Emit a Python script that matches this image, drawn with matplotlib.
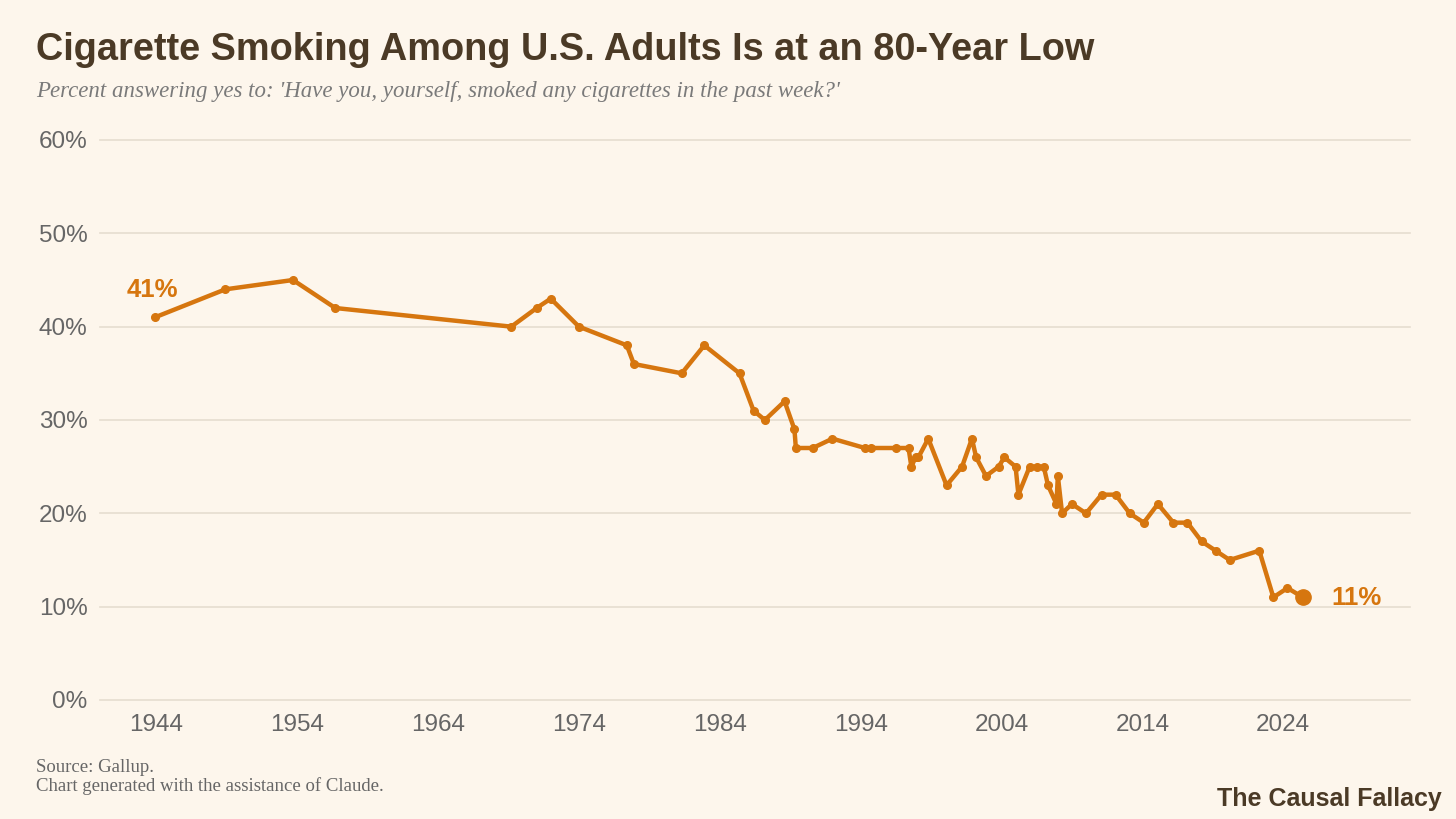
import matplotlib
matplotlib.use("Agg")
import matplotlib.pyplot as plt

# Gallup: smoked any cigarettes in the past week (%)
years = [1943.9, 1948.9, 1953.7, 1956.7, 1969.2, 1971.0, 1972.0, 1974.0,
         1977.4, 1977.9, 1981.3, 1982.9, 1985.4, 1986.4, 1987.2, 1988.6,
         1989.3, 1989.4, 1990.6, 1992.0, 1994.3, 1994.7, 1996.5, 1997.4,
         1997.6, 1997.9, 1998.1, 1998.8, 2000.1, 2001.2, 2001.9, 2002.2,
         2002.9, 2003.8, 2004.2, 2005.0, 2005.2, 2006.0, 2006.5, 2007.0,
         2007.3, 2007.9, 2008.0, 2008.3, 2009.0, 2010.0, 2011.1, 2012.1,
         2013.1, 2014.1, 2015.1, 2016.2, 2017.2, 2018.2, 2019.2, 2020.2,
         2022.3, 2023.3, 2024.3, 2025.4]
pct = [41, 44, 45, 42, 40, 42, 43, 40,
       38, 36, 35, 38, 35, 31, 30, 32,
       29, 27, 27, 28, 27, 27, 27, 27,
       25, 26, 26, 28, 23, 25, 28, 26,
       24, 25, 26, 25, 22, 25, 25, 25,
       23, 21, 24, 20, 21, 20, 22, 22,
       20, 19, 21, 19, 19, 17, 16, 15,
       16, 11, 12, 11]

xticks = [1944, 1954, 1964, 1974, 1984, 1994, 2004, 2014, 2024]
yticks = [0, 10, 20, 30, 40, 50, 60]

bg = "#fdf6ec"
orange = "#d6760f"
brown = "#4b3a26"
grey = "#666666"

fig = plt.figure(figsize=(14.56, 8.19), dpi=100, facecolor=bg)
ax = fig.add_axes([100 / 1456, 119 / 819, 1310 / 1456, 560 / 819])
ax.set_facecolor(bg)

ax.plot(years, pct, color=orange, lw=3.2, marker="o", ms=5.5,
        solid_joinstyle="round", zorder=3)
ax.plot(years[-1], pct[-1], "o", color=orange, ms=11, zorder=4)

ax.annotate(f"{pct[0]}%", (years[0], pct[0]), xytext=(-3, 27),
            textcoords="offset pixels", ha="center", va="center",
            color=orange, fontsize=18.5, fontweight="bold",
            family="Liberation Sans")
ax.annotate(f"{pct[-1]}%", (years[-1], pct[-1]), xytext=(28, -1),
            textcoords="offset pixels", ha="left", va="center",
            color=orange, fontsize=18.5, fontweight="bold",
            family="Liberation Sans")

ax.set_xlim(1940, 2033)
ax.set_ylim(0, 60)
ax.set_xticks(xticks)
ax.set_yticks(yticks)
ax.set_yticklabels([f"{v}%" for v in yticks])
ax.grid(axis="y", color="#e6ddd0", lw=1.2)
ax.set_axisbelow(True)
for s in ax.spines.values():
    s.set_visible(False)
ax.tick_params(length=0, labelsize=17.5, labelcolor=grey)
ax.tick_params(axis="y", pad=9)
ax.tick_params(axis="x", pad=10)
for lab in ax.get_xticklabels() + ax.get_yticklabels():
    lab.set_family("Liberation Sans")
for c in ax.get_ygridlines():
    c.set_clip_on(False)

fig.text(36 / 1456, 1 - 50 / 819,
         "Cigarette Smoking Among U.S. Adults Is at an 80-Year Low",
         ha="left", va="center", fontsize=27.3, fontweight="bold",
         color=brown, family="Liberation Sans")
fig.text(36 / 1456, 1 - 92 / 819,
         "Percent answering yes to: 'Have you, yourself, smoked any cigarettes in the past week?'",
         ha="left", va="center", fontsize=16.5, style="italic",
         color="#7a7a7a", family="Liberation Serif")
fig.text(36 / 1456, 1 - 767 / 819, "Source: Gallup.", ha="left", va="center",
         fontsize=13.5, color=grey, family="Liberation Serif")
fig.text(36 / 1456, 1 - 786 / 819, "Chart generated with the assistance of Claude.",
         ha="left", va="center", fontsize=13.5, color=grey, family="Liberation Serif")
fig.text(1442 / 1456, 1 - 799 / 819, "The Causal Fallacy", ha="right", va="center",
         fontsize=18, fontweight="bold", color=brown, family="Liberation Sans")

fig.savefig("out.png", dpi=100, facecolor=bg)
